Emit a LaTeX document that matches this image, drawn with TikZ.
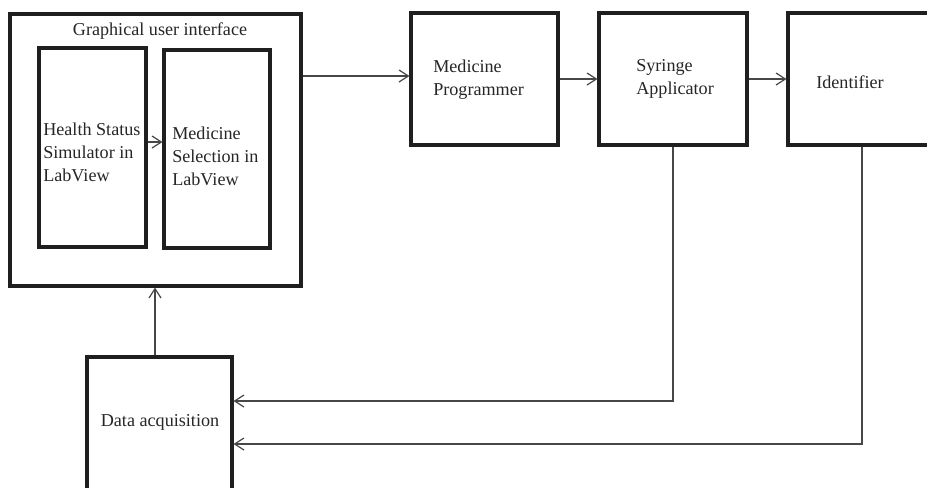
\documentclass[tikz,border=0pt]{standalone}
\usepackage{fontspec}
\setmainfont{Liberation Serif}
\usetikzlibrary{fit,arrows.meta}
\begin{document}
\begin{tikzpicture}[x=0.75pt,y=-0.75pt,
  box/.style={draw=black!88,line width=2.3pt,inner sep=0pt,fill=none},
  conn/.style={draw=black!72,line width=1pt,-{Straight Barb[length=7pt,width=9pt,line width=0.9pt]}},
  txt/.style={font=\fontsize{13.6}{17.25}\selectfont,inner sep=0pt,text=black!85,align=left}]
\useasboundingbox (0,0) rectangle (927,487);
\clip (0,0) rectangle (927,487);
\fill[white] (0,0) rectangle (927,487);
% boxes
\node[box,fit={(10,14) (301,286)}] (gui) {};
\node[box,fit={(39,48) (146,247)}] (hss) {};
\node[box,fit={(164,50) (270,248)}] (msel) {};
\node[box,fit={(411,13) (558,145)}] (mprog) {};
\node[box,fit={(599,13) (747,145)}] (syr) {};
\node[box,fit={(788,13) (936,145)}] (ident) {};
\node[box,fit={(87,357) (232,500)}] (daq) {};
% texts
\node[txt] (tgui) at (160,31) {Graphical user interface};
\node[txt,anchor=west] (thss) at (43,152) {Health Status\\Simulator in\\LabView};
\node[txt,anchor=west] (tmsel) at (172,156) {Medicine\\Selection in\\LabView};
\node[txt,anchor=west] (tmprog) at (433,80) {Medicine\\Programmer};
\node[txt,anchor=west] (tsyr) at (636,79) {Syringe\\Applicator};
\node[txt,anchor=west] (tident) at (816,82) {Identifier};
\node[txt] (tdaq) at (160,422) {Data acquisition};
% connectors
\draw[conn] (gui.east |- 0,76) -- (mprog.west |- 0,76);
\draw[conn] (hss.east |- 0,142) -- (msel.west |- 0,142);
\draw[conn] (mprog.east) -- (syr.west);
\draw[conn] (syr.east) -- (ident.west);
\draw[conn] (daq.north -| 155,0) -- (gui.south -| 155,0);
\draw[conn] (syr.south) |- (daq.east |- 0,401);
\draw[conn] (ident.south) |- (daq.east |- 0,444);
\end{tikzpicture}
\end{document}
